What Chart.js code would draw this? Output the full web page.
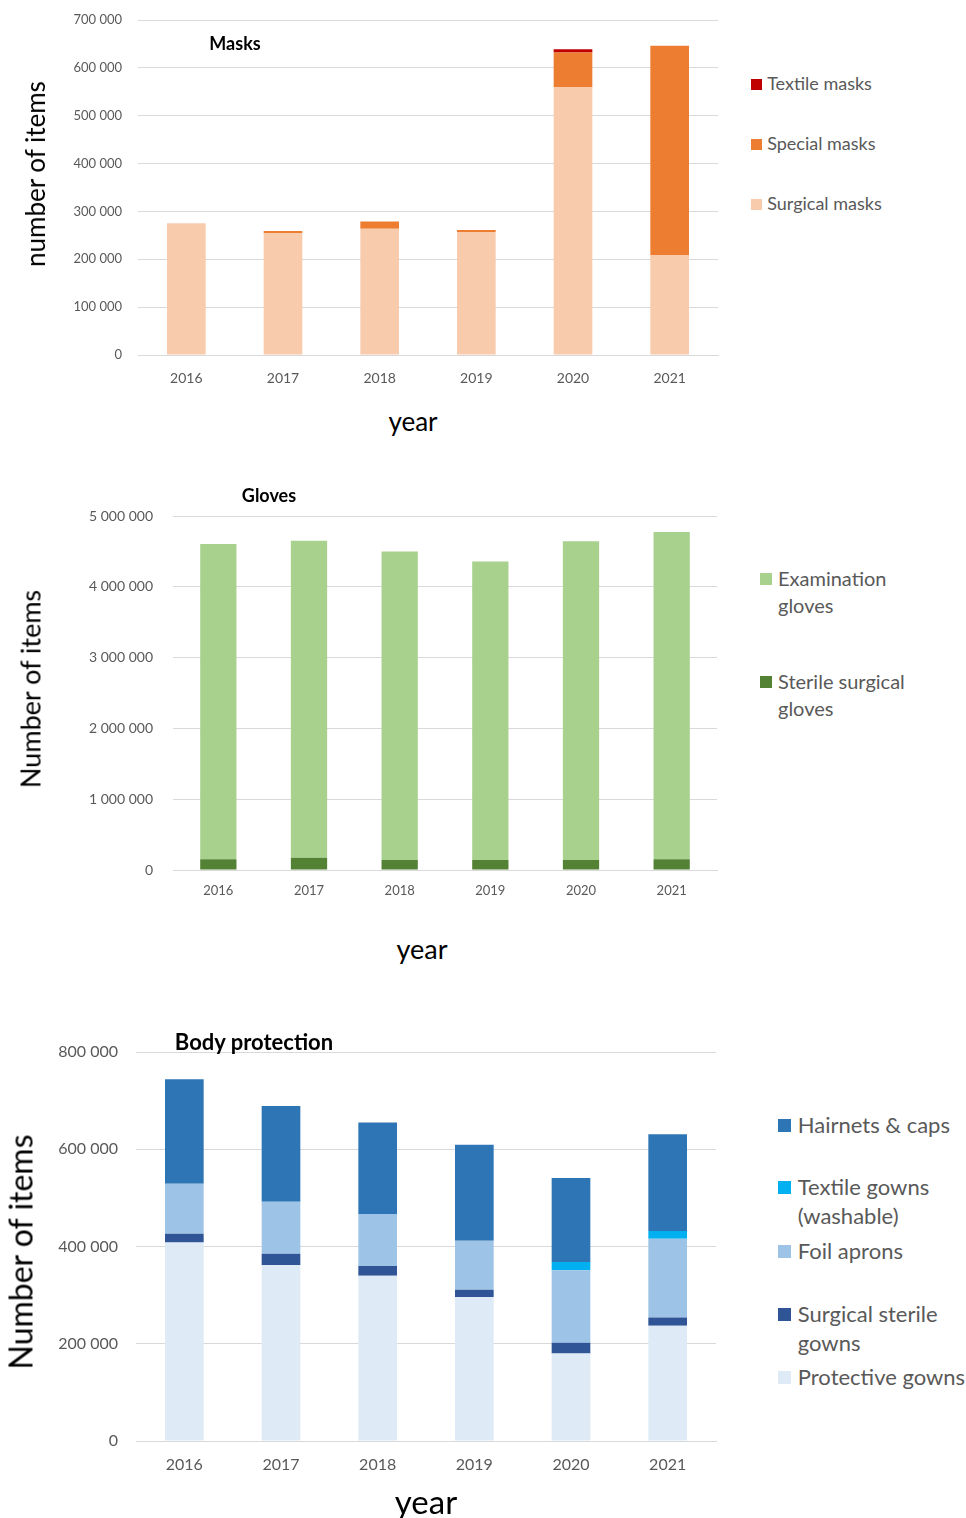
<!DOCTYPE html>
<html>
<head>
<meta charset="utf-8">
<script src="https://cdn.jsdelivr.net/npm/chart.js@4.4.1/dist/chart.umd.min.js"></script>
<style>
  body { margin: 0; background: #fff; font-family: Lato, "Open Sans", sans-serif; }
  #page { position: relative; width: 966px; height: 1518px; overflow: hidden; }
  .box { position: absolute; left: 0; width: 730px; }
  .txt { position: absolute; white-space: nowrap; color: #000; }
  .rot { transform: translate(-50%, -50%) rotate(-90deg); }
  .ctr { transform: translate(-50%, -50%); }
  .leg { position: absolute; color: #595959; line-height: 1.4; }
  .leg i { position: absolute; left: 0; width: 10px; height: 10px; }
</style>
</head>
<body>
<div id="page">
  <div class="box" style="top:0;height:395px"><canvas id="masksChart"></canvas></div>
  <div class="box" style="top:470px;height:440px"><canvas id="glovesChart"></canvas></div>
  <div class="box" style="top:1010px;height:480px"><canvas id="bodyChart"></canvas></div>

  <div class="txt ctr" style="left:235px;top:43px;font-size:18px;font-weight:bold">Masks</div>
  <div class="txt rot" style="left:35px;top:174px;font-size:26px">number of items</div>
  <div class="txt ctr" style="left:413px;top:421px;font-size:26px">year</div>

  <div class="txt ctr" style="left:269px;top:495px;font-size:18px;font-weight:bold">Gloves</div>
  <div class="txt rot" style="left:30px;top:689px;font-size:27px">Number of items</div>
  <div class="txt ctr" style="left:422px;top:948px;font-size:27px">year</div>

  <div class="txt ctr" style="left:254px;top:1041px;font-size:22px;font-weight:bold">Body protection</div>
  <div class="txt rot" style="left:20px;top:1252px;font-size:32px">Number of items</div>
  <div class="txt ctr" style="left:426px;top:1501px;font-size:33px">year</div>

  <div id="masksLegend"></div>
  <div id="glovesLegend"></div>
  <div id="bodyLegend"></div>
</div>

<script>
// ---------------- data ----------------
var years = ["2016", "2017", "2018", "2019", "2020", "2021"];

// Masks
var surgicalMasks = [274000, 255000, 264000, 257000, 560000, 209000];
var specialMasks  = [1000, 4000, 15000, 4000, 72000, 437000];
var textileMasks  = [0, 0, 0, 0, 7000, 0];
var masksTicks    = [0, 100000, 200000, 300000, 400000, 500000, 600000, 700000];

// Gloves
var sterileGloves     = [151000, 174000, 141000, 141000, 141000, 151000];
var examinationGloves = [4454000, 4478000, 4356000, 4215000, 4501000, 4623000];
var glovesTicks       = [0, 1000000, 2000000, 3000000, 4000000, 5000000];

// Body protection
var protectiveGowns      = [408000, 362000, 340000, 296000, 180000, 237000];
var surgicalSterileGowns = [18000, 23000, 20000, 15000, 22000, 17000];
var foilAprons           = [103000, 107000, 107000, 101000, 149000, 162000];
var textileGowns         = [0, 0, 0, 0, 17000, 16000];
var hairnetsCaps         = [215000, 197000, 188000, 197000, 173000, 199000];
var bodyTicks            = [0, 200000, 400000, 600000, 800000];

// ---------------- helpers ----------------
function fmt(v) {
	return String(v).replace(/\B(?=(\d{3})+(?!\d))/g, ' ');
}

function makeChart(id, sets, ticks, opt) {
	var ctx = document.getElementById(id);
	return new Chart(ctx, {
		type: 'bar',
		data: {
			labels: years,
			datasets: sets.map(function (s) {
				return {
					label: s.label,
					data: s.data,
					backgroundColor: s.color,
					borderWidth: 0,
					barPercentage: 0.4,
					categoryPercentage: 1
				};
			})
		},
		options: {
			responsive: true,
			maintainAspectRatio: false,
			animation: false,
			layout: { padding: { top: opt.top, right: opt.right, left: 0, bottom: 0 } },
			plugins: { legend: { display: false }, tooltip: { enabled: false } },
			scales: {
				x: {
					stacked: true,
					grid: { display: false, drawTicks: false },
					border: { color: '#d9d9d9', width: 1 },
					ticks: { color: '#595959', padding: opt.xPad, font: { family: 'Lato', size: opt.xFont } },
					afterFit: function (s) { s.height = opt.xHeight; }
				},
				y: {
					stacked: true,
					min: 0,
					max: ticks[ticks.length - 1],
					grid: { color: '#d9d9d9', drawTicks: false },
					border: { display: false },
					afterBuildTicks: function (s) {
						s.ticks = ticks.map(function (v) { return { value: v }; });
					},
					ticks: {
						color: '#595959',
						padding: opt.yPad,
						font: { family: 'Lato', size: opt.yFont },
						callback: function (v) { return fmt(v); }
					},
					afterFit: function (s) {
						s.width = opt.yWidth;
						s.paddingTop = 0;
						s.paddingBottom = 0;
					}
				}
			}
		}
	});
}

function makeLegend(id, items, x, fontSize, width) {
	var el = document.getElementById(id);
	items.forEach(function (it) {
		var d = document.createElement('div');
		d.className = 'leg';
		d.style.left = x + 'px';
		d.style.top = it.top + 'px';
		d.style.fontSize = fontSize + 'px';
		d.style.width = width + 'px';
		d.style.paddingLeft = (fontSize * 0.9) + 'px';
		d.style.lineHeight = it.lh ? it.lh + 'px' : '1.4';
		var sq = document.createElement('i');
		sq.style.background = it.color;
		sq.style.top = (it.sqTop || 6) + 'px';
		sq.style.width = sq.style.height = it.sq + 'px';
		d.appendChild(sq);
		d.appendChild(document.createTextNode(it.label));
		el.appendChild(d);
	});
}

// ---------------- charts ----------------
var masksSets = [
	{ label: 'Surgical masks', data: surgicalMasks, color: '#f8cbad' },
	{ label: 'Special masks',  data: specialMasks,  color: '#ed7d31' },
	{ label: 'Textile masks',  data: textileMasks,  color: '#c00000' }
];
makeChart('masksChart', masksSets, masksTicks, {
	top: 20, right: 12, xHeight: 40, xPad: 15, xFont: 14, yPad: 16, yFont: 13, yWidth: 138
});

var glovesSets = [
	{ label: 'Sterile surgical gloves', data: sterileGloves,     color: '#548235' },
	{ label: 'Examination gloves',      data: examinationGloves, color: '#a9d18e' }
];
makeChart('glovesChart', glovesSets, glovesTicks, {
	top: 46, right: 13, xHeight: 40, xPad: 13, xFont: 13, yPad: 20, yFont: 14, yWidth: 173
});

var bodySets = [
	{ label: 'Protective gowns',         data: protectiveGowns,      color: '#deebf7' },
	{ label: 'Surgical sterile gowns',   data: surgicalSterileGowns, color: '#2f5597' },
	{ label: 'Foil aprons',              data: foilAprons,           color: '#9dc3e6' },
	{ label: 'Textile gowns (washable)', data: textileGowns,         color: '#00b0f0' },
	{ label: 'Hairnets & caps',          data: hairnetsCaps,         color: '#2e75b6' }
];
makeChart('bodyChart', bodySets, bodyTicks, {
	top: 42, right: 14, xHeight: 49, xPad: 14, xFont: 16, yPad: 18, yFont: 16, yWidth: 136
});

// ---------------- legends ----------------
makeLegend('masksLegend', [
	{ label: masksSets[2].label, color: masksSets[2].color, top: 71, sq: 11, sqTop: 8 },
	{ label: masksSets[1].label, color: masksSets[1].color, top: 131, sq: 11, sqTop: 8 },
	{ label: masksSets[0].label, color: masksSets[0].color, top: 191, sq: 11, sqTop: 8 }
], 751, 18, 200);

makeLegend('glovesLegend', [
	{ label: glovesSets[1].label, color: glovesSets[1].color, top: 565, sq: 12, sqTop: 8, lh: 27 },
	{ label: glovesSets[0].label, color: glovesSets[0].color, top: 668, sq: 12, sqTop: 8, lh: 27 }
], 760, 20, 155);

makeLegend('bodyLegend', [
	{ label: bodySets[4].label, color: bodySets[4].color, top: 1110, sq: 13, sqTop: 9, lh: 29 },
	{ label: bodySets[3].label, color: bodySets[3].color, top: 1172, sq: 13, sqTop: 9, lh: 29 },
	{ label: bodySets[2].label, color: bodySets[2].color, top: 1236, sq: 13, sqTop: 9, lh: 29 },
	{ label: bodySets[1].label, color: bodySets[1].color, top: 1299, sq: 13, sqTop: 9, lh: 29 },
	{ label: bodySets[0].label, color: bodySets[0].color, top: 1362, sq: 13, sqTop: 9, lh: 29 }
], 778, 22, 188);
</script>
</body>
</html>
